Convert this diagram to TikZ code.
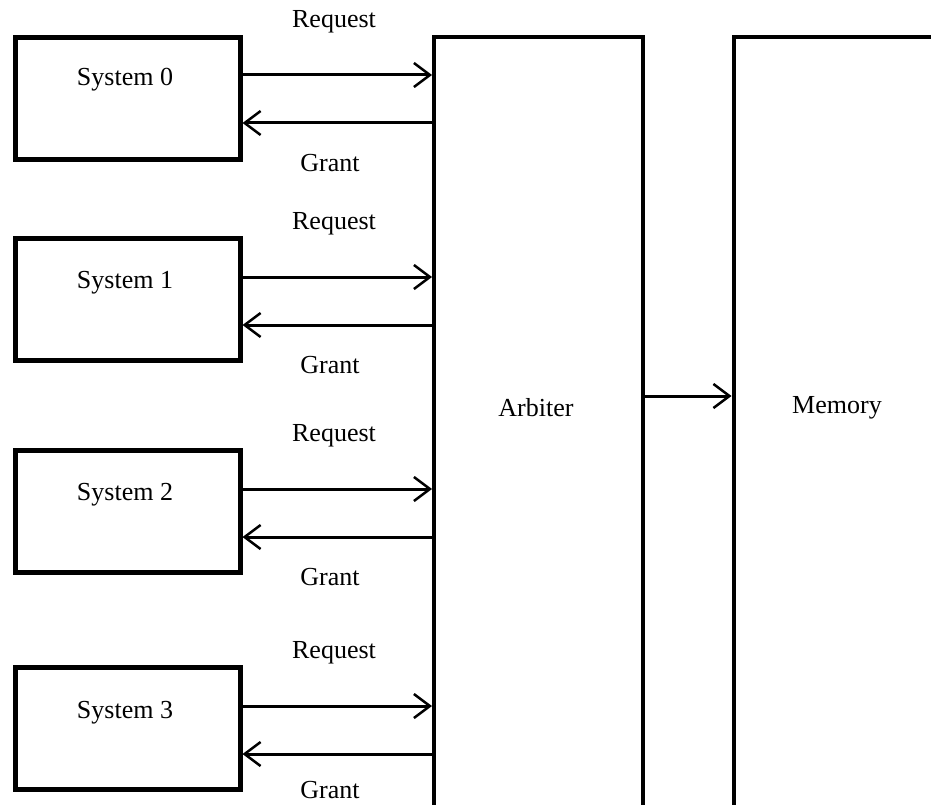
\documentclass[tikz,border=0pt]{standalone}
\usepackage{fontspec}
\setmainfont{Liberation Serif}
\usetikzlibrary{arrows.meta}
\begin{document}
\begin{tikzpicture}[x=1pt,y=-1pt,
  sysbox/.style={draw,line width=5pt,minimum width=225pt,minimum height=122pt,inner sep=0pt},
  bigbox/.style={draw,line width=4pt,inner sep=0pt},
  lbl/.style={font=\fontsize{26}{28}\selectfont,inner sep=0pt},
  conn/.style={line width=3pt,-{Straight Barb[length=16pt,width=24pt,line width=2.5pt]}}]
\useasboundingbox (0,0) rectangle (931,805);
\clip (0,0) rectangle (931,805);
\fill[white] (0,0) rectangle (931,805);
% big boxes (open at bottom / right, extend beyond the picture)
\node[bigbox,minimum width=209pt,minimum height=900pt,anchor=north west] (arb) at (432,35) {};
\node[bigbox,minimum width=400pt,minimum height=900pt,anchor=north west] (mem) at (731.5,35) {};
\node[lbl] (arbt) at (536,408) {Arbiter};
\node[lbl] (memt) at (837,408) {Memory};
\draw[conn] (arb.east |- 0,396) -- (mem.west |- 0,396);
% systems
\foreach \i/\top/\req/\gnt/\rl/\gl/\tl in {0/35/75/123/22/163/80, 1/236/277/325/224/365/283, 2/448/489/537/436/577/495, 3/665/706/754/653/790/713}{
  \node[sysbox,anchor=north west] (s\i) at (12.5,\top) {};
  \node[lbl] (s\i t) at (125,\tl) {System \i};
  \draw[conn] (s\i.east |- 0,\req) -- (arb.west |- 0,\req);
  \draw[conn] (arb.west |- 0,\gnt) -- (s\i.east |- 0,\gnt);
  \node[lbl] (r\i) at (334,\rl) {Request};
  \node[lbl] (g\i) at (330,\gl) {Grant};
}
\end{tikzpicture}
\end{document}
